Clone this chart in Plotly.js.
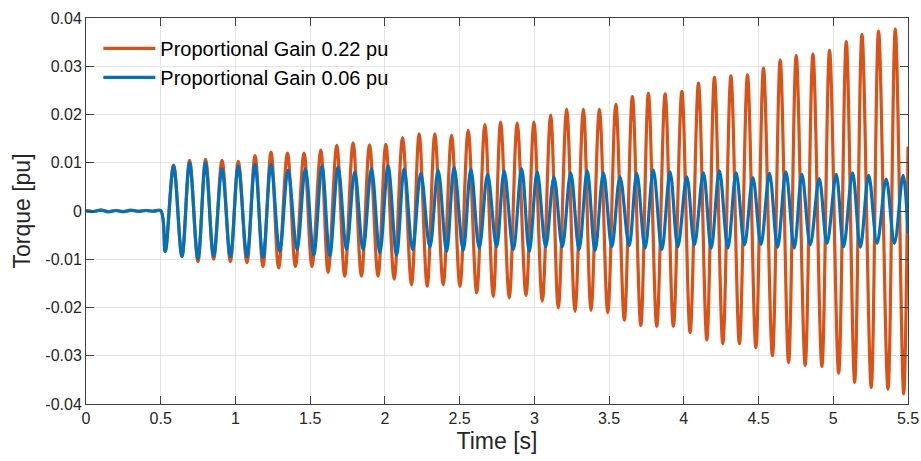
<!DOCTYPE html>
<html>
<head>
<meta charset="utf-8">
<script src="https://cdn.plot.ly/plotly-3.0.1.min.js"></script>
<style>html,body{margin:0;padding:0;background:#fff;}#chart{width:921px;height:461px;}</style>
</head>
<body>
<div id="chart"></div>
<script>
// Series names
const seriesNames = ["Proportional Gain 0.22 pu", "Proportional Gain 0.06 pu"];

// Orange series (gain 0.22 pu): time of each sample / extremum [s]
const orangeT = [0, 0.05, 0.1, 0.15, 0.2, 0.25, 0.3, 0.35, 0.4, 0.45, 0.5,
  0.530, 0.586, 0.642, 0.693, 0.749, 0.800, 0.854, 0.910, 0.966, 1.019,
  1.077, 1.131, 1.184, 1.238, 1.289, 1.348, 1.401, 1.459, 1.512, 1.571,
  1.620, 1.678, 1.731, 1.787, 1.843, 1.897, 1.954, 2.006, 2.062, 2.118,
  2.178, 2.229, 2.283, 2.334, 2.390, 2.446, 2.502, 2.557, 2.614, 2.669,
  2.725, 2.774, 2.832, 2.885, 2.944, 2.997, 3.053, 3.109, 3.160, 3.216,
  3.272, 3.328, 3.379, 3.435, 3.491, 3.545, 3.602, 3.656, 3.712, 3.763,
  3.819, 3.875, 3.930, 3.987, 4.042, 4.098, 4.154, 4.205, 4.261, 4.315,
  4.372, 4.426, 4.482, 4.533, 4.593, 4.645, 4.701, 4.752, 4.812, 4.864,
  4.924, 4.975, 5.036, 5.087, 5.143, 5.192, 5.254, 5.303, 5.366, 5.415,
  5.471, 5.5];
// Orange series torque [pu]
const orangeV = [0.0001, -0.0001, 0.0002, -0.0001, 0.0001, -0.0002, 0.0001, 0.0000, 0.0001, -0.0001, 0.0000,
  -0.0084, 0.0095, -0.0094, 0.0105, -0.0105, 0.0107, -0.0100, 0.0105, -0.0105, 0.0103,
  -0.0107, 0.0115, -0.0115, 0.0122, -0.0118, 0.0120, -0.0115, 0.0120, -0.0115, 0.0126,
  -0.0127, 0.0136, -0.0135, 0.0141, -0.0135, 0.0137, -0.0135, 0.0138, -0.0141, 0.0152,
  -0.0153, 0.0160, -0.0156, 0.0160, -0.0153, 0.0157, -0.0156, 0.0167, -0.0170, 0.0179,
  -0.0177, 0.0184, -0.0180, 0.0182, -0.0175, 0.0184, -0.0187, 0.0199, -0.0201, 0.0211,
  -0.0208, 0.0211, -0.0206, 0.0211, -0.0211, 0.0221, -0.0226, 0.0237, -0.0237, 0.0244,
  -0.0239, 0.0243, -0.0239, 0.0248, -0.0252, 0.0265, -0.0267, 0.0277, -0.0275, 0.0280,
  -0.0275, 0.0282, -0.0283, 0.0296, -0.0300, 0.0313, -0.0314, 0.0322, -0.0320, 0.0325,
  -0.0322, 0.0333, -0.0336, 0.0351, -0.0355, 0.0366, -0.0366, 0.0373, -0.0369, 0.0377,
  -0.0379, 0.0133];

// Blue series (gain 0.06 pu): time of each sample / extremum [s]
const blueT = [0, 0.05, 0.1, 0.15, 0.2, 0.25, 0.3, 0.35, 0.4, 0.45, 0.5,
  0.530, 0.586, 0.642, 0.693, 0.749, 0.800, 0.854, 0.910, 0.966, 1.019,
  1.077, 1.131, 1.184, 1.238, 1.296, 1.352, 1.412, 1.468, 1.524, 1.579,
  1.631, 1.687, 1.743, 1.798, 1.854, 1.910, 1.966, 2.021, 2.078, 2.129,
  2.185, 2.240, 2.301, 2.356, 2.413, 2.463, 2.524, 2.575, 2.631, 2.687,
  2.747, 2.798, 2.859, 2.915, 2.966, 3.019, 3.076, 3.131, 3.187, 3.243,
  3.299, 3.354, 3.406, 3.462, 3.518, 3.573, 3.634, 3.685, 3.741, 3.796,
  3.853, 3.908, 3.960, 4.020, 4.071, 4.131, 4.183, 4.238, 4.295, 4.350,
  4.406, 4.462, 4.516, 4.573, 4.627, 4.683, 4.739, 4.790, 4.846, 4.906,
  4.958, 5.020, 5.069, 5.129, 5.181, 5.237, 5.293, 5.354, 5.409, 5.467,
  5.5];
// Blue series torque [pu]
const blueV = [0.0001, -0.0001, 0.0002, -0.0002, 0.0001, -0.0001, 0.0002, -0.0001, 0.0001, 0.0000, 0.0001,
  -0.0084, 0.0093, -0.0094, 0.0100, -0.0098, 0.0100, -0.0093, 0.0087, -0.0094, 0.0093,
  -0.0094, 0.0096, -0.0096, 0.0096, -0.0084, 0.0085, -0.0080, 0.0088, -0.0091, 0.0093,
  -0.0093, 0.0091, -0.0080, 0.0081, -0.0080, 0.0088, -0.0087, 0.0093, -0.0091, 0.0087,
  -0.0080, 0.0078, -0.0075, 0.0085, -0.0084, 0.0091, -0.0082, 0.0087, -0.0077, 0.0076,
  -0.0074, 0.0083, -0.0080, 0.0088, -0.0084, 0.0081, -0.0074, 0.0071, -0.0074, 0.0079,
  -0.0080, 0.0083, -0.0082, 0.0079, -0.0074, 0.0071, -0.0072, 0.0078, -0.0077, 0.0085,
  -0.0080, 0.0081, -0.0074, 0.0071, -0.0070, 0.0079, -0.0077, 0.0083, -0.0077, 0.0079,
  -0.0070, 0.0069, -0.0069, 0.0078, -0.0075, 0.0081, -0.0077, 0.0076, -0.0070, 0.0067,
  -0.0067, 0.0076, -0.0074, 0.0079, -0.0075, 0.0074, -0.0067, 0.0066, -0.0067, 0.0074,
  -0.0046];

// Axis ticks
const xTicks = [0, 0.5, 1, 1.5, 2, 2.5, 3, 3.5, 4, 4.5, 5, 5.5];
const xTickLabels = ["0", "0.5", "1", "1.5", "2", "2.5", "3", "3.5", "4", "4.5", "5", "5.5"];
const yTicks = [-0.04, -0.03, -0.02, -0.01, 0, 0.01, 0.02, 0.03, 0.04];
const yTickLabels = ["-0.04", "-0.03", "-0.02", "-0.01", "0", "0.01", "0.02", "0.03", "0.04"];

const FONT = "'Liberation Sans', Arial, Helvetica, sans-serif";

const traces = [
  {x: orangeT, y: orangeV, type: "scatter", mode: "lines", name: seriesNames[0],
   line: {color: "#D95319", width: 3.2, shape: "spline", smoothing: 1}},
  {x: blueT, y: blueV, type: "scatter", mode: "lines", name: seriesNames[1],
   line: {color: "#0072BD", width: 3.2, shape: "spline", smoothing: 1}}
];

const axisCommon = {
  showline: true, linecolor: "#404040", linewidth: 1, mirror: "ticks",
  ticks: "inside", ticklen: 8, tickcolor: "#404040", tickwidth: 1,
  showgrid: true, gridcolor: "#e3e3e3", gridwidth: 1, zeroline: false,
  tickfont: {family: FONT, size: 16, color: "#262626"}
};

const layout = {
  width: 921, height: 461,
  margin: {l: 86, r: 13, t: 18, b: 57, pad: 0},
  paper_bgcolor: "#ffffff", plot_bgcolor: "#ffffff",
  showlegend: true,
  legend: {x: 0.015, y: 0.972, xanchor: "left", yanchor: "top",
    bgcolor: "rgba(0,0,0,0)", borderwidth: 0,
    font: {family: FONT, size: 20, color: "#000"}, tracegroupgap: 0, itemwidth: 52},
  xaxis: Object.assign({}, axisCommon, {
    range: [0, 5.5], tickmode: "array", tickvals: xTicks, ticktext: xTickLabels,
    title: {text: "Time [s]", font: {family: FONT, size: 23, color: "#262626"}, standoff: 6}
  }),
  yaxis: Object.assign({}, axisCommon, {
    range: [-0.04, 0.04], tickmode: "array", tickvals: yTicks, ticktext: yTickLabels,
    title: {text: "Torque [pu]", font: {family: FONT, size: 23, color: "#262626"}, standoff: 8}
  })
};

Plotly.newPlot("chart", traces, layout, {staticPlot: true, displayModeBar: false});
</script>
</body>
</html>
